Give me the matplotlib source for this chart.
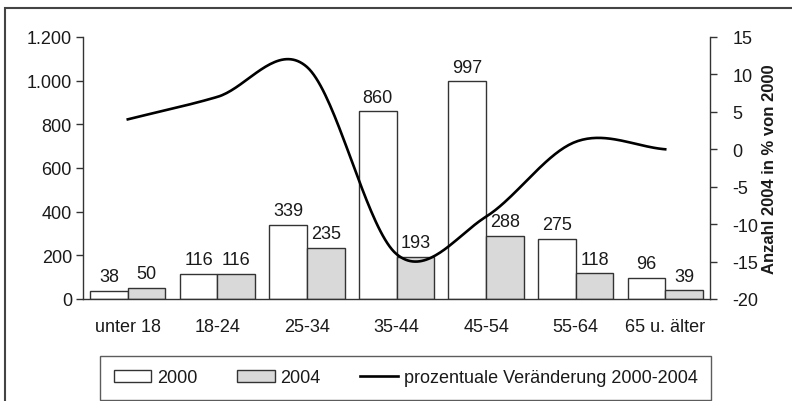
import matplotlib
matplotlib.use('Agg')
import matplotlib.pyplot as plt
import numpy as np
from matplotlib.patches import Rectangle

plt.rcParams['font.family'] = ['Liberation Sans', 'DejaVu Sans']
plt.rcParams['axes.unicode_minus'] = False

# data
categories = ['unter 18', '18-24', '25-34', '35-44', '45-54', '55-64', '65 u. älter']
values_2000 = [38, 116, 339, 860, 997, 275, 96]
values_2004 = [50, 116, 235, 193, 288, 118, 39]
change_pct = [4, 7, 11, -14, -9, 1, 0]

left_ticks = [0, 200, 400, 600, 800, 1000, 1200]
left_tick_labels = ['0', '200', '400', '600', '800', '1.000', '1.200']
right_ticks = [-20, -15, -10, -5, 0, 5, 10, 15]

edge = '#333333'
txt = '#1a1a1a'
fs = 13


def smooth(xs, ys, n=40):
    # Catmull-Rom spline, like the smoothed line in Excel
    xs = np.asarray(xs, float)
    ys = np.asarray(ys, float)
    px = np.concatenate([[2 * xs[0] - xs[1]], xs, [2 * xs[-1] - xs[-2]]])
    py = np.concatenate([[2 * ys[0] - ys[1]], ys, [2 * ys[-1] - ys[-2]]])
    out_x, out_y = [], []
    t = np.linspace(0, 1, n)
    for i in range(1, len(px) - 2):
        for p, out in ((px, out_x), (py, out_y)):
            p0, p1, p2, p3 = p[i - 1], p[i], p[i + 1], p[i + 2]
            m1 = (p2 - p0) / 2
            m2 = (p3 - p1) / 2
            h = ((2 * t**3 - 3 * t**2 + 1) * p1 + (t**3 - 2 * t**2 + t) * m1
                 + (-2 * t**3 + 3 * t**2) * p2 + (t**3 - t**2) * m2)
            out.extend(h)
    return np.array(out_x), np.array(out_y)


fig = plt.figure(figsize=(7.92, 4.02), dpi=100)
ax = fig.add_axes([83 / 792, 1 - 300 / 402, 627 / 792, 262 / 402])
ax2 = ax.twinx()

x = np.arange(len(categories))
w = 0.42
b1 = ax.bar(x - w / 2, values_2000, w, color='white', edgecolor=edge, linewidth=1.0, label='2000')
b2 = ax.bar(x + w / 2, values_2004, w, color='#d9d9d9', edgecolor=edge, linewidth=1.0, label='2004')

for bars, vals in ((b1, values_2000), (b2, values_2004)):
    for r, v in zip(bars, vals):
        ax.annotate(str(v), (r.get_x() + r.get_width() / 2, v), xytext=(0, 7),
                    textcoords='offset points', ha='center', va='baseline',
                    fontsize=fs, color=txt)

sx, sy = smooth(x, change_pct)
ln, = ax2.plot(sx, sy, color='black', lw=1.9, label='prozentuale Veränderung 2000-2004')

ax.set_xlim(-0.5, len(categories) - 0.5)
ax.set_ylim(0, 1200)
ax2.set_ylim(-20, 15)

ax.set_yticks(left_ticks)
ax.set_yticklabels(left_tick_labels)
ax2.set_yticks(right_ticks)
ax.set_xticks(x)
ax.set_xticklabels(categories)

for a in (ax, ax2):
    a.spines['top'].set_visible(False)
    for s in a.spines.values():
        s.set_color(edge)
        s.set_linewidth(1.0)
ax.spines['right'].set_visible(False)
ax2.spines['left'].set_visible(False)
ax2.spines['bottom'].set_visible(False)

ax.tick_params(axis='y', direction='out', length=5, width=1, color=edge, labelsize=fs, labelcolor=txt, pad=3)
ax.tick_params(axis='x', length=0, labelsize=fs, labelcolor=txt, pad=14)
ax2.tick_params(axis='y', direction='out', length=5, width=1, color=edge, labelsize=fs, labelcolor=txt, pad=11)

ax2.set_ylabel('Anzahl 2004 in % von 2000', fontsize=12, fontweight='bold', color=txt)
ax2.yaxis.set_label_coords(1.083, 0.5)

leg = fig.legend([b1, b2, ln], ['2000', '2004', 'prozentuale Veränderung 2000-2004'],
                 loc='center', ncol=3, bbox_to_anchor=(405.5 / 792, 1 - 379 / 402),
                 fancybox=False, frameon=True, fontsize=fs,
                 handlelength=2.1, handleheight=0.6, borderpad=0.75, columnspacing=2.2,
                 handletextpad=0.3, borderaxespad=0)
leg.get_frame().set_edgecolor(edge)
leg.get_frame().set_linewidth(1.0)
for t in leg.get_texts():
    t.set_color(txt)

# outer frame around the chart area
fig.patches.append(Rectangle((5 / 792, -0.2), 1.2, 1.2 - 9 / 402, transform=fig.transFigure,
                             fill=False, edgecolor='#444444', linewidth=1.5))

fig.savefig('out.png', dpi=100)
